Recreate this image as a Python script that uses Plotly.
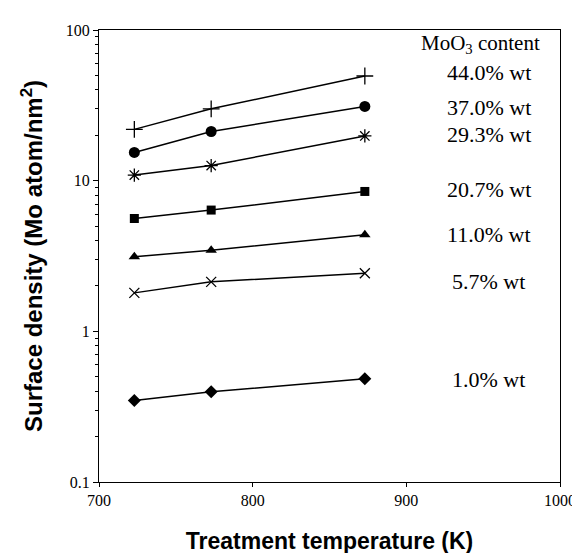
import plotly.graph_objects as go

temperatures = [723, 773, 873]
series_names = ["44.0% wt", "37.0% wt", "29.3% wt", "20.7% wt", "11.0% wt", "5.7% wt", "1.0% wt"]
s44 = [21.9, 30.0, 49.5]
s37 = [15.4, 21.2, 31.1]
s29 = [10.9, 12.6, 19.8]
s20 = [5.61, 6.38, 8.48]
s11 = [3.13, 3.45, 4.38]
s5 = [1.80, 2.13, 2.43]
s1 = [0.347, 0.397, 0.485]
series_values = [s44, s37, s29, s20, s11, s5, s1]

x_ticks = [700, 800, 900, 1000]
y_ticks = [0.1, 1, 10, 100]
y_ticktext = ["0.1", "1", "10", "100"]
y_minor = [m * 10 ** k for k in (-1, 0, 1) for m in range(2, 10)]
legend_title = "MoO<sub>3</sub> content"

markers = [
    dict(symbol="cross-thin", size=12, line=dict(width=1.3, color="black")),
    dict(symbol="circle", size=11, color="black"),
    dict(symbol="asterisk", size=11, line=dict(width=1.3, color="black")),
    dict(symbol="square", size=9, color="black"),
    dict(symbol="triangle-up", size=10, color="black"),
    dict(symbol="x-thin", size=10, line=dict(width=1.3, color="black")),
    dict(symbol="diamond", size=10, color="black"),
]
label_y = [0.905, 0.829, 0.768, 0.648, 0.547, 0.443, 0.226]

fig = go.Figure()
for name, vals, mk in zip(series_names, series_values, markers):
    m = dict(mk)
    m.setdefault("color", "black")
    fig.add_trace(go.Scatter(x=temperatures, y=vals, mode="lines+markers", name=name,
                             line=dict(color="black", width=1.5), marker=m, showlegend=False))

serif = "Liberation Serif, Times New Roman, serif"
sans = "Liberation Sans, Arial, sans-serif"

annotations = [dict(text=legend_title, x=0.828, y=0.968, xref="paper", yref="paper",
                    xanchor="center", yanchor="middle", borderpad=0,
                    showarrow=False, font=dict(family=serif, size=21, color="black"))]
for name, ly in zip(series_names, label_y):
    annotations.append(dict(text=name, x=0.845, y=ly, xref="paper", yref="paper",
                            xanchor="center", yanchor="middle", borderpad=0,
                            showarrow=False, font=dict(family=serif, size=22, color="black")))

fig.update_layout(
    width=580, height=553,
    margin=dict(l=91, r=19, t=22, b=70),
    plot_bgcolor="white", paper_bgcolor="white",
    annotations=annotations,
    xaxis=dict(range=[700, 1000], tickvals=x_ticks, ticks="outside", ticklen=4,
               tickcolor="black", showline=True, linecolor="black", linewidth=1.3,
               mirror=True, showgrid=False, zeroline=False,
               tickfont=dict(family=serif, size=16, color="black"),
               title=dict(text="Treatment temperature (K)", standoff=24,
                          font=dict(family=sans, size=23, color="black", weight="bold"))),
    yaxis=dict(type="log", range=[-1, 2], tickvals=y_ticks, ticktext=y_ticktext,
               ticks="outside", ticklen=5, tickcolor="black", showline=True,
               linecolor="black", linewidth=1.3, mirror=True, showgrid=False, zeroline=False,
               minor=dict(tickvals=y_minor, ticks="outside", ticklen=3, tickcolor="black",
                          tickwidth=1, showgrid=False),
               tickfont=dict(family=serif, size=16, color="black"),
               title=dict(text="Surface density (Mo atom/nm<sup>2</sup>)", standoff=16,
                          font=dict(family=sans, size=24, color="black", weight="bold"))),
)

fig.write_html("out.html")
